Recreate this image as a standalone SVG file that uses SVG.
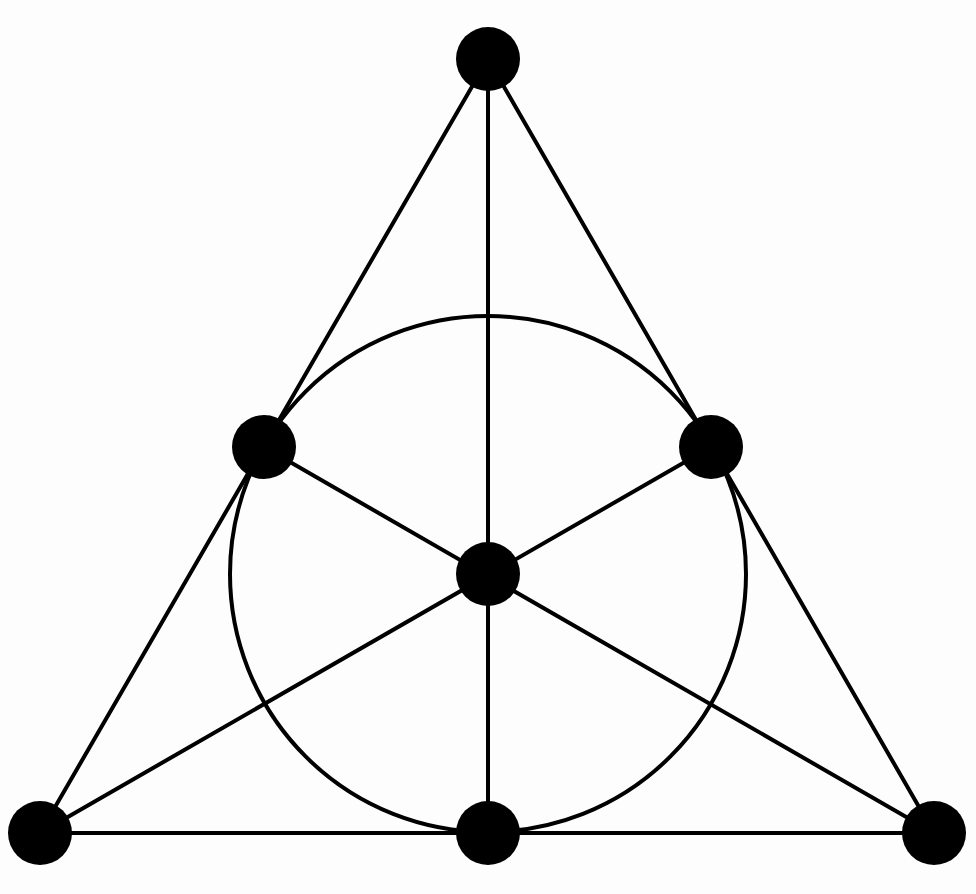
<svg xmlns="http://www.w3.org/2000/svg" width="976" height="894" viewBox="0 0 976 894">
<style>
.e{stroke:#000;stroke-width:4;fill:none;stroke-linecap:round}
.n{fill:#000}
</style>
<rect width="976" height="894" fill="#fdfdfd"/>
<g id="connectors">
<line class="e" x1="488" y1="59" x2="40" y2="833"/>
<line class="e" x1="488" y1="59" x2="934" y2="833"/>
<line class="e" x1="40" y1="833" x2="934" y2="833"/>
<line class="e" x1="488" y1="59" x2="488" y2="833"/>
<line class="e" x1="264" y1="447" x2="934" y2="833"/>
<line class="e" x1="711" y1="447" x2="40" y2="833"/>
<circle class="e" cx="488" cy="574" r="258"/>
</g>
<g id="n-top"><circle class="n" cx="488" cy="59" r="32"/></g>
<g id="n-left"><circle class="n" cx="264" cy="447" r="32"/></g>
<g id="n-right"><circle class="n" cx="711" cy="447" r="32"/></g>
<g id="n-center"><circle class="n" cx="488" cy="574" r="32"/></g>
<g id="n-bl"><circle class="n" cx="40" cy="833" r="32"/></g>
<g id="n-bm"><circle class="n" cx="488" cy="833" r="32"/></g>
<g id="n-br"><circle class="n" cx="934" cy="833" r="32"/></g>
</svg>
